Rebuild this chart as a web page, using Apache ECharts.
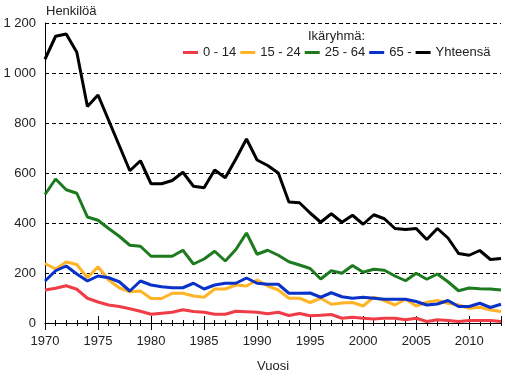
<!DOCTYPE html>
<html>
<head>
<meta charset="utf-8">
<script src="https://cdn.jsdelivr.net/npm/echarts@6/dist/echarts.min.js"></script>
<style>html,body{margin:0;padding:0;background:#fff}#c{width:505px;height:378px}</style>
</head>
<body>
<div id="c"></div>
<script>
var years = [];
for (var y = 1970; y <= 2013; y++) years.push(y);

var age0_14 = [132,139,149,135,99,84,72,66,57,47,35,39,43,53,46,43,35,35,47,45,43,37,43,30,38,29,31,34,19,23,19,16,19,19,13,19,6,13,10,6,10,10,10,6];
var age15_24 = [238,216,244,234,181,225,172,141,125,128,98,98,119,119,108,103,136,136,152,148,172,148,132,99,99,82,99,75,80,82,68,103,90,72,95,68,83,90,79,72,59,63,52,46];
var age25_64 = [514,576,533,519,424,411,378,347,311,307,267,267,267,291,236,256,287,248,294,360,275,291,271,245,232,218,176,209,199,230,203,215,211,188,169,199,175,196,165,129,140,137,136,132];
var age65 = [168,209,228,196,168,188,181,165,128,168,152,145,141,141,159,136,152,159,159,180,159,155,155,119,119,120,103,121,105,99,103,99,95,95,95,86,72,76,90,66,66,79,62,75];
var total = [1055,1147,1156,1083,866,912,811,710,609,649,557,557,570,603,547,541,612,581,656,736,652,630,600,484,481,440,403,437,403,431,395,433,417,378,374,378,334,378,340,278,271,290,254,258];

var seriesNames = ['0 - 14','15 - 24','25 - 64','65 -','Yhteensä'];
var seriesData = [age0_14, age15_24, age25_64, age65, total];
var colors = ['#f03c46','#ffb428','#1e7a1e','#0a32c8','#000000'];

var FONT = 'Arial, "Liberation Sans", sans-serif';
var TXT = '#222';

function pairs(arr){ return arr.map(function(v,i){ return [years[i], v]; }); }

var series = seriesNames.map(function(n, i){
  return {
    name: n, type: 'line', xAxisIndex: 0, yAxisIndex: 0,
    data: pairs(seriesData[i]),
    showSymbol: false, symbol: 'none',
    lineStyle: { color: colors[i], width: 3 },
    itemStyle: { color: colors[i] },
    z: i === 4 ? 5 : 3 + i * 0.1,
    animation: false
  };
});

function tickAxis(interval, inside, len) {
  return {
    type: 'value', position: 'bottom', min: 1970, max: 2013, interval: interval,
    axisLine: { show: false },
    axisTick: { show: true, inside: inside, length: len, lineStyle: { color: '#000', width: 1 } },
    axisLabel: { show: false },
    splitLine: { show: false }
  };
}

var chart = echarts.init(document.getElementById('c'), null, { renderer: 'canvas' });
chart.setOption({
  animation: false,
  backgroundColor: '#fff',
  textStyle: { fontFamily: FONT },
  grid: { left: 45, right: 4, top: 23, bottom: 55, containLabel: false },
  title: [
    {
      text: 'Henkilöä', left: 46, top: 5, padding: 0,
      textStyle: { fontFamily: FONT, fontSize: 13, fontWeight: 'normal', color: TXT }
    },
    {
      text: 'Ikäryhmä:', left: 308, top: 30, padding: 0,
      textStyle: { fontFamily: FONT, fontSize: 13, fontWeight: 'normal', color: TXT }
    }
  ],
  legend: {
    left: 183, top: 46, padding: 0, itemGap: 4,
    itemWidth: 15, itemHeight: 3, icon: 'rect',
    data: seriesNames,
    textStyle: { fontFamily: FONT, fontSize: 13, color: TXT }
  },
  xAxis: [
    {
      type: 'value', position: 'bottom', min: 1970, max: 2013, interval: 5,
      name: 'Vuosi', nameLocation: 'middle', nameGap: 37,
      nameTextStyle: { fontFamily: FONT, fontSize: 13, color: TXT },
      axisLine: { show: true, lineStyle: { color: '#000', width: 1 } },
      axisTick: { show: true, length: 7, lineStyle: { color: '#000' } },
      axisLabel: { fontFamily: FONT, fontSize: 13, color: TXT, margin: 12, showMaxLabel: false,
        formatter: function(v){ return String(v); } },
      splitLine: { show: false }
    },
    tickAxis(5, true, 7),
    tickAxis(1, true, 3),
    tickAxis(1, false, 3)
  ],
  yAxis: {
    type: 'value', min: 0, max: 1200, interval: 200,
    axisLine: { show: true, lineStyle: { color: '#000', width: 1 } },
    axisTick: { show: false },
    axisLabel: {
      fontFamily: FONT, fontSize: 13, color: TXT, margin: 9,
      formatter: function(v){ return String(v).replace(/\B(?=(\d{3})+(?!\d))/g, ' '); }
    },
    splitLine: { show: true, lineStyle: { color: '#000', width: 1, type: [4, 3] } }
  },
  series: series
});
</script>
</body>
</html>
